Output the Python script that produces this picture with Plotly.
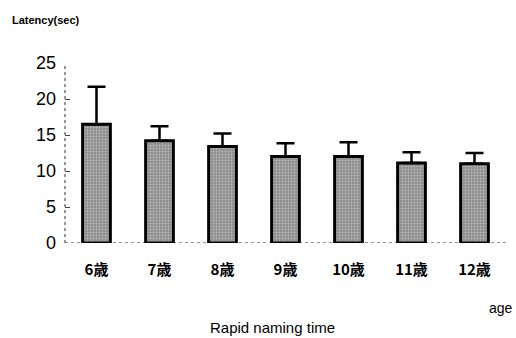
import plotly.graph_objects as go

ages = ["6歳", "7歳", "8歳", "9歳", "10歳", "11歳", "12歳"]
latency = [16.5, 14.2, 13.4, 12.0, 12.0, 11.1, 11.0]
sd = [5.2, 2.0, 1.8, 1.85, 2.0, 1.5, 1.5]
y_ticks = [0, 5, 10, 15, 20, 25]

fig = go.Figure()
fig.add_trace(go.Bar(
    x=ages, y=latency,
    marker=dict(
        color="#9a9a9a",
        line=dict(color="black", width=3),
        pattern=dict(shape=".", fgcolor="#e8e8e8", bgcolor="#8c8c8c", size=3, solidity=0.35),
    ),
    error_y=dict(type="data", array=sd, arrayminus=[0] * len(sd), symmetric=False,
                 color="black", thickness=2.5, width=9),
))

fig.update_layout(
    width=516, height=338,
    margin=dict(l=65, r=10, t=63, b=95),
    paper_bgcolor="white", plot_bgcolor="white",
    bargap=0.56,
    showlegend=False,
    font=dict(family="Liberation Sans, Arial", color="black"),
    xaxis=dict(showline=False, ticks="", showgrid=False,
               tickfont=dict(family="Noto Sans CJK JP", size=15, color="black", weight="bold"),
               ticklabelstandoff=16),
    yaxis=dict(range=[0, 25], tickvals=y_ticks, showgrid=False, zeroline=False,
               showline=False, ticks="inside", ticklen=5, tickcolor="#444",
               tickfont=dict(size=18, color="black"), ticklabelstandoff=8),
    shapes=[
        dict(type="line", xref="paper", yref="y", x0=0, x1=0, y0=0, y1=25,
             line=dict(color="#333", width=1, dash="dot")),
        dict(type="line", xref="paper", yref="y", x0=0, x1=1, y0=0, y1=0,
             line=dict(color="#333", width=1, dash="dot"), layer="below"),
    ],
    annotations=[
        dict(text="<b>Latency(sec)</b>", xref="paper", yref="paper", x=-0.125, y=1.24,
             xanchor="left", yanchor="middle", showarrow=False,
             font=dict(size=11)),
        dict(text="age", xref="paper", yref="paper", x=1.02, y=-0.36,
             xanchor="right", yanchor="middle", showarrow=False,
             font=dict(size=14)),
        dict(text="Rapid naming time", xref="paper", yref="paper", x=0.47, y=-0.47,
             xanchor="center", yanchor="middle", showarrow=False,
             font=dict(size=15)),
    ],
)

fig.write_html("out.html")
